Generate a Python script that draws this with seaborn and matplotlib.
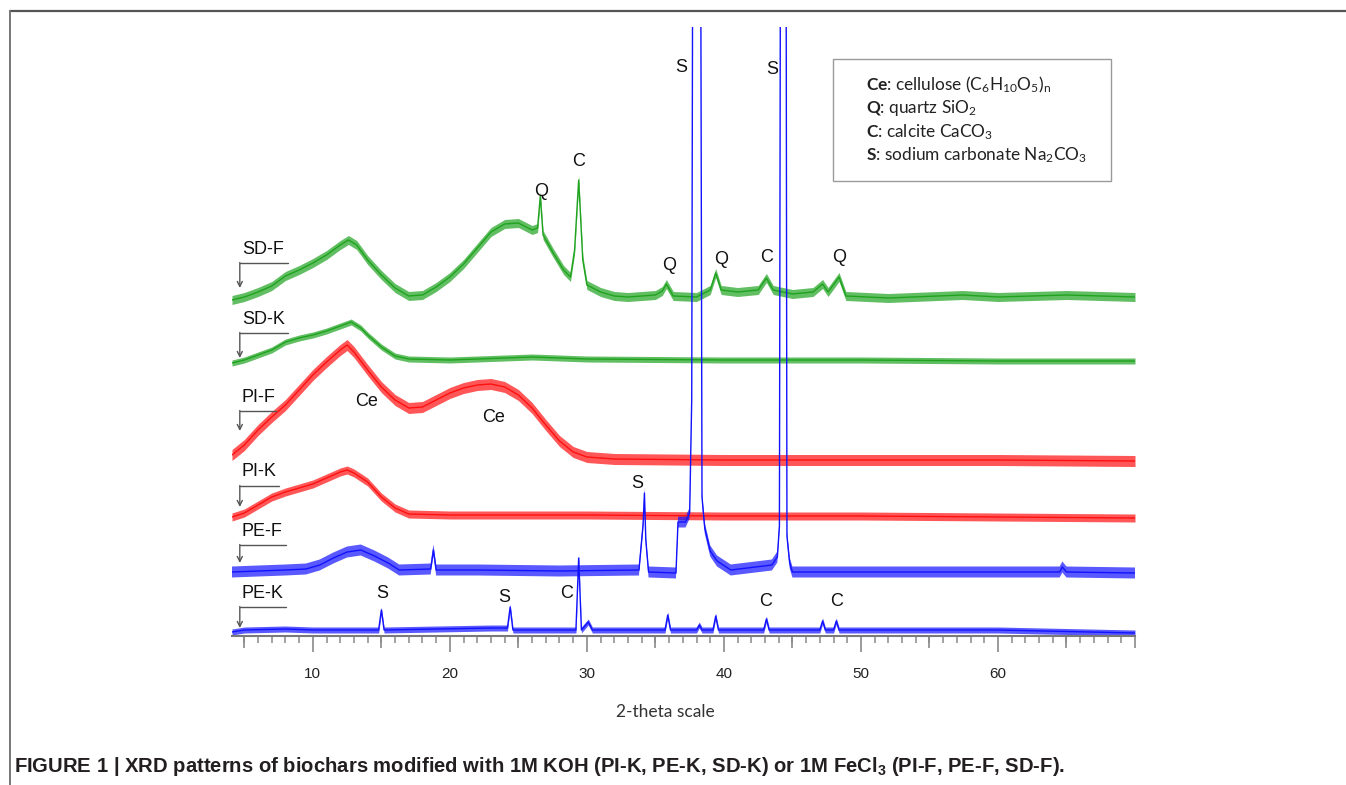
import matplotlib
matplotlib.use('Agg')
import numpy as np
import matplotlib.pyplot as plt
import seaborn as sns
from matplotlib.patches import Rectangle
from matplotlib.lines import Line2D

# XRD traces, already stacked as in the figure (arbitrary intensity units)
tt_sdf = [4.1, 5, 6, 7, 8, 9, 10, 11, 12, 12.6, 13.2, 14, 15, 16, 17, 18, 19, 20, 21, 22,
          23, 24, 25, 26, 26.4, 26.6, 26.8, 27.5, 28.3, 28.8, 29.1, 29.4, 29.7, 30, 31, 32, 33, 35, 35.5, 35.8,
          36.3, 38, 39.0, 39.4, 39.8, 41, 42.5, 43.1, 43.6, 45, 46.5, 47.2, 47.6, 48.4, 48.9, 52, 57.4, 60, 65, 70]
sdf = [336, 339, 344, 350, 360, 366, 373, 381, 391, 396, 391, 376, 361, 348, 340, 341, 349, 359, 372, 388,
       404, 412, 413, 406, 408, 440, 401, 384, 366, 359, 386, 456, 376, 351, 344, 340, 339, 341, 345, 352,
       340, 339, 346, 363, 346, 344, 346, 358, 346, 342, 344, 352, 344, 359, 340, 338, 341, 339, 341, 339]

tt_sdk = [4.1, 5, 6, 7, 8, 9, 10, 11, 12, 12.8, 13.5, 14, 15, 16, 17, 20, 26, 30, 40, 50, 60, 70]
sdk = [273, 276, 281, 286, 294, 298, 301, 305, 310, 314, 308, 301, 289, 280, 277, 276, 279, 277, 276, 276, 275, 275]

tt_pif = [4.1, 5, 6, 7, 8, 9, 10, 11, 12, 12.5, 13, 14, 15, 16, 17, 18, 19, 20, 21, 22, 23, 24, 25, 26,
          27, 28, 29, 30, 32, 40, 50, 60, 70]
pif = [181, 191, 206, 219, 231, 246, 261, 274, 286, 291, 284, 266, 249, 236, 228, 229, 236, 243, 248, 251,
       252, 249, 241, 228, 211, 195, 184, 179, 177, 176, 176, 176, 175]

tt_pik = [4.1, 5, 6, 7, 8, 9, 10, 11, 12, 12.5, 13, 14, 15, 16, 17, 20, 30, 40, 50, 60, 70]
pik = [119, 123, 131, 139, 144, 148, 152, 158, 164, 166, 163, 154, 139, 128, 122, 121, 121, 120, 120, 119, 118]

tt_pef = [4.1, 6, 8, 9.5, 10.5, 11.5, 12.5, 13.5, 14.5, 15.5, 16.3, 18.6, 18.8, 19.0, 22, 28, 33.8, 34.1, 34.2, 34.3,
          34.5, 36.5, 36.65, 37.2, 37.5, 37.65, 38.0, 38.4, 38.6, 39.0, 39.5, 40.5, 43.5, 43.9, 44.05, 44.35, 44.6, 44.8,
          45.0, 50, 55, 64.5, 64.7, 65.0, 70]
pef = [64, 65, 66, 67, 71, 78, 84, 86, 80, 73, 66, 67, 86, 66, 66, 65, 66, 111, 143, 96,
       64, 63, 114, 114, 123, 236, 2500, 139, 108, 85, 75, 66, 71, 79, 110, 2500, 100, 73,
       64, 64, 64, 64, 69, 64, 63]

tt_pek = [4.1, 5, 8, 10, 14.8, 15.0, 15.2, 23, 24.2, 24.4, 24.6, 29.2, 29.4, 29.6, 30.1, 30.4, 35.7, 35.9, 36.1, 38.0,
          38.2, 38.4, 39.2, 39.4, 39.6, 42.9, 43.1, 43.3, 47.0, 47.2, 47.4, 48.0, 48.2, 48.4, 55, 60, 70]
pek = [4, 6, 7, 6, 6, 26, 6, 8, 8, 29, 6, 6, 78, 6, 14, 6, 6, 21, 6, 6,
       11, 6, 6, 20, 6, 6, 17, 6, 6, 15, 6, 6, 15, 6, 6, 6, 3]

# sample labels
sample_names = ['SD-F', 'SD-K', 'PI-F', 'PI-K', 'PE-F', 'PE-K']
label_text_h = [387, 317, 239, 164, 104, 42]
label_line_h = [373, 303, 225, 150, 91, 29]
label_tip_h = [348, 278, 205, 129, 73, 8]
label_end_tt = [8.18, 8.18, 7.3, 7.52, 8.03, 8.03]

# phase letters above peaks
peak_tags = ['S', 'S', 'C', 'Q', 'Q', 'Q', 'C', 'Q', 'Ce', 'Ce', 'S', 'S', 'S', 'C', 'C', 'C']
peak_tt = [36.9, 43.5, 29.42, 26.64, 35.99, 39.78, 43.14, 48.39, 13.94, 23.21, 33.65, 15.04, 23.94, 28.54, 43.07, 48.25]
peak_h = [568, 566, 475, 444, 370, 377, 379, 378, 234, 219, 153, 43, 39, 43, 34, 34]

legend_lines = [r'$\mathbf{Ce}$: cellulose (C$_\mathrm{6}$H$_\mathrm{10}$O$_\mathrm{5}$)$_\mathrm{n}$',
                r'$\mathbf{Q}$: quartz SiO$_\mathrm{2}$',
                r'$\mathbf{C}$: calcite CaCO$_\mathrm{3}$',
                r'$\mathbf{S}$: sodium carbonate Na$_\mathrm{2}$CO$_\mathrm{3}$']

green, red, blue = '#1fa31f', '#ff1010', '#1212ff'
traces = [(tt_sdf, sdf, green, 4.5), (tt_sdk, sdk, green, 3), (tt_pif, pif, red, 5.5),
          (tt_pik, pik, red, 4), (tt_pef, pef, blue, 5.5), (tt_pek, pek, blue, 3)]

sns.set_theme(style='white')
plt.rcParams['font.family'] = ['Liberation Sans', 'DejaVu Sans']
plt.rcParams['mathtext.fontset'] = 'custom'
plt.rcParams['mathtext.rm'] = 'Lato'
plt.rcParams['mathtext.it'] = 'Lato:italic'
plt.rcParams['mathtext.bf'] = 'Lato:bold'

W, H = 1346, 785
fig = plt.figure(figsize=(W / 100, H / 100), dpi=100)
ax = fig.add_axes([232 / W, 1 - 636 / H, (1135 - 232) / W, (636 - 27) / H])

for tt, vals, c, noise in traces:
    v = np.array(vals, dtype=float)
    ax.fill_between(tt, v - noise, v + noise, color=c, alpha=0.7, lw=0)
    sns.lineplot(x=tt, y=vals, ax=ax, color=c, lw=1.0, estimator=None, sort=False)

ax.set_xlim(4.1, 70)
ax.set_ylim(0, 609)
for s in ['top', 'right', 'left']:
    ax.spines[s].set_visible(False)
ax.spines['bottom'].set_color('#7a7a7a')
ax.spines['bottom'].set_linewidth(1.5)
ax.set_yticks([])
ax.set_xticks([10, 20, 30, 40, 50, 60])
ax.set_xticks([t for t in range(5, 71) if t % 10 != 0], minor=True)
ax.tick_params(axis='x', which='major', length=11.5, width=1.2, color='#8a8a8a',
               labelsize=11, pad=11, labelcolor='#222222', bottom=True)
ax.tick_params(axis='x', which='minor', length=5, width=1.1, color='#8a8a8a', bottom=True)
sec = ax.secondary_xaxis('bottom')
sec.set_xticks([5, 15, 25, 35, 45, 55, 65, 70])
sec.tick_params(length=8.6, width=1.2, color='#8a8a8a', labelbottom=False)
sec.spines['bottom'].set_visible(False)
ax.set_xlabel('')
ax.set_ylabel('')

# sample labels with bent arrows
for name, th, lh, tip, xe in zip(sample_names, label_text_h, label_line_h, label_tip_h, label_end_tt):
    ax.text(4.82, th, name, fontsize=13, va='center', ha='left', color='#111111')
    ax.plot([4.67, xe], [lh, lh], color='#555555', lw=1.0, clip_on=False)
    ax.annotate('', xy=(4.67, tip), xytext=(4.67, lh + 0.5),
                arrowprops=dict(arrowstyle='->', color='#555555', lw=1.0, mutation_scale=9,
                                shrinkA=0, shrinkB=0))

for tag, x, h in zip(peak_tags, peak_tt, peak_h):
    ax.text(x, h, tag, fontsize=13, ha='center', va='center', color='#111111')

# legend box for phases
fig.add_artist(Rectangle((833 / W, 1 - 181 / H), (1111 - 833) / W, (181 - 59) / H,
                         transform=fig.transFigure, fill=False, ec='#9a9a9a', lw=1.0))
for i, txt in enumerate(legend_lines):
    fig.text(866 / W, 1 - (85 + 23.5 * i) / H, txt, fontsize=12.4, family='Lato',
             va='center', ha='left', color='#222222')

fig.text(665 / W, 1 - 712 / H, '2-theta scale', fontsize=12.5, family='Lato',
         ha='center', va='center', color='#333333')

fig.text(14 / W, 1 - 766 / H,
         r'FIGURE 1 | XRD patterns of biochars modified with 1M KOH (PI-K, PE-K, SD-K) or 1M FeCl$_\mathregular{3}$ (PI-F, PE-F, SD-F).',
         fontsize=14.6, weight='bold', family='Liberation Sans',
         ha='left', va='center', color='#231f20')

# page frame lines
fig.add_artist(Line2D([9.5 / W, 1], [1 - 10.5 / H, 1 - 10.5 / H], transform=fig.transFigure,
                      color='#555555', lw=1.6))
fig.add_artist(Line2D([9.5 / W, 9.5 / W], [1 - 10.5 / H, 0], transform=fig.transFigure,
                      color='#777777', lw=1.4))

fig.savefig('out.png', dpi=100)
